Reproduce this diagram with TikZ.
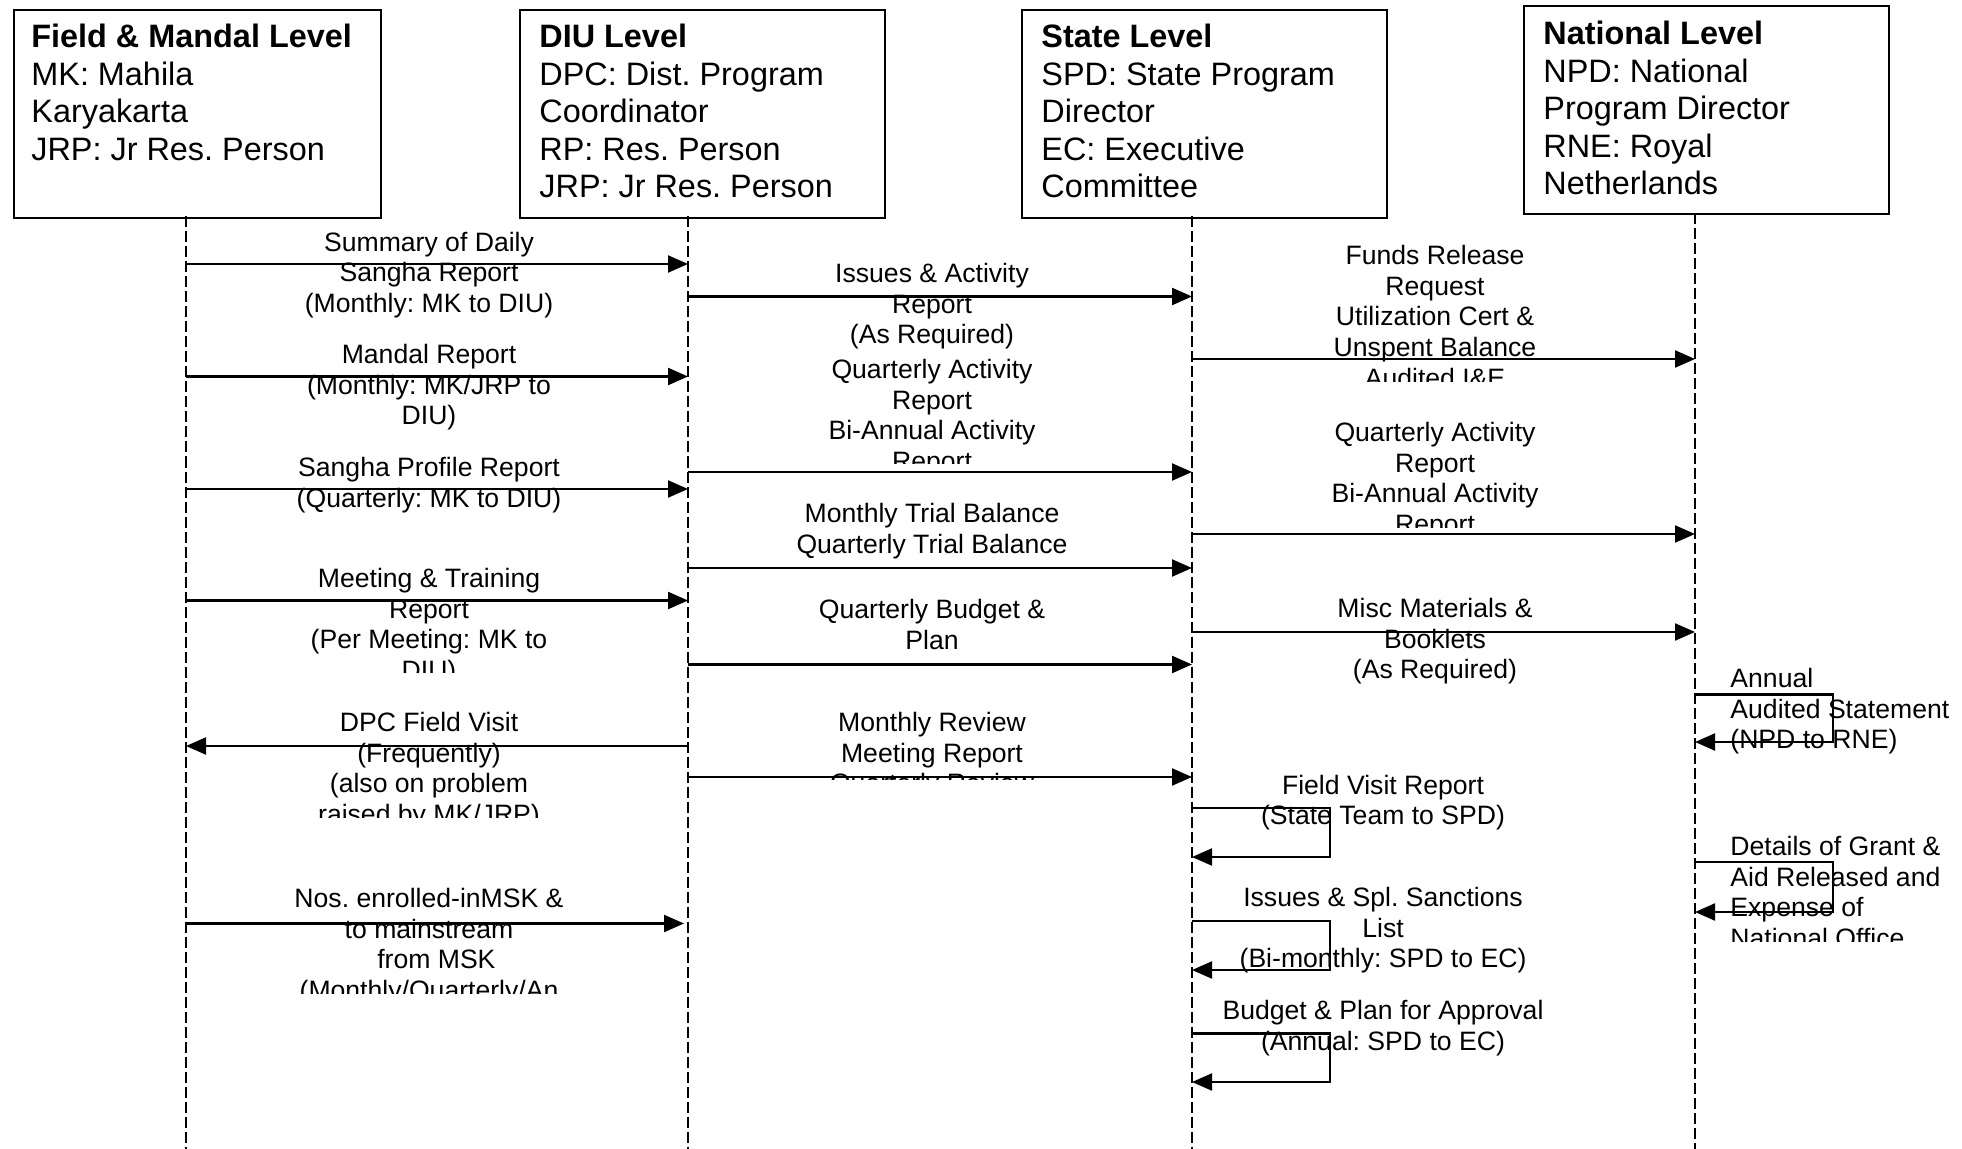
\documentclass[tikz,border=0pt]{standalone}
\usepackage{fontspec}
\setmainfont{Liberation Sans}
\usetikzlibrary{arrows.meta}
\frenchspacing
\begin{document}
\begin{tikzpicture}[x=0.5pt,y=-0.5pt,
  lvlbox/.style={draw, line width=1.2pt, inner sep=0pt, anchor=north west,
                 minimum width=182.5pt, minimum height=104pt},
  lvltext/.style={anchor=north west, inner sep=0pt, align=left,
                  font=\fontsize{16.2}{18.75}\selectfont},
  lifeline/.style={line width=0.7pt, dash pattern=on 5.5pt off 2pt},
  msg/.style={line width=1.1pt, -{Triangle[length=10pt,width=8.5pt]}},
  lbl/.style={anchor=north, inner sep=0pt, align=center,
              font=\fontsize{13.3}{15.3}\selectfont},
  lblL/.style={anchor=north west, inner sep=0pt, align=left,
               font=\fontsize{13.3}{15.3}\selectfont},
]
\useasboundingbox (0,0) rectangle (1962,1149);

% ---- level boxes ----
\node[lvlbox, minimum width=183.75pt] (field) at (12.5,9) {};
\node[lvltext] (fieldtxt) at (31,24)
  {\textbf{Field \& Mandal Level}\\MK: Mahila\\Karyakarta\\JRP: Jr Res. Person};
\node[lvlbox] (diu) at (519,9) {};
\node[lvltext] (diutxt) at (539,24)
  {\textbf{DIU Level}\\DPC: Dist. Program\\Coordinator\\RP: Res. Person\\JRP: Jr Res. Person};
\node[lvlbox] (state) at (1021,9) {};
\node[lvltext] (statetxt) at (1041,24)
  {\textbf{State Level}\\SPD: State Program\\Director\\EC: Executive\\Committee};
\node[lvlbox] (nat) at (1523,5) {};
\node[lvltext] (nattxt) at (1543,21)
  {\textbf{National Level}\\NPD: National\\Program Director\\RNE: Royal\\Netherlands};

% ---- lifelines ----
\coordinate (ll1) at (186,216.5);  \coordinate (lb1) at (186,1149);
\coordinate (ll2) at (688,216.5);  \coordinate (lb2) at (688,1149);
\coordinate (ll3) at (1192,216.5); \coordinate (lb3) at (1192,1149);
\coordinate (ll4) at (1695,213);   \coordinate (lb4) at (1695,1149);
\draw[lifeline] (ll1) -- (lb1);
\draw[lifeline] (ll2) -- (lb2);
\draw[lifeline] (ll3) -- (lb3);
\draw[lifeline] (ll4) -- (lb4);

% ---- field level <-> DIU ----
\draw[msg] (ll1 |- 0,264) -- (ll2 |- 0,264);
\node[lbl] (m1) at (429,231.5) {Summary of Daily\\Sangha Report\\(Monthly: MK to DIU)};
\draw[msg] (ll1 |- 0,376.5) -- (ll2 |- 0,376.5);
\node[lbl] (m2) at (429,344) {Mandal Report\\(Monthly: MK/JRP to\\DIU)};
\draw[msg] (ll1 |- 0,489) -- (ll2 |- 0,489);
\node[lbl] (m3) at (429,457) {Sangha Profile Report\\(Quarterly: MK to DIU)};
\draw[msg] (ll1 |- 0,600.5) -- (ll2 |- 0,600.5);
\begin{scope}
  \clip (180,560) rectangle (680,672);
  \node[lbl] (m4) at (429,568) {Meeting \& Training\\Report\\(Per Meeting: MK to\\DIU)};
\end{scope}
\draw[msg] (ll2 |- 0,746) -- (ll1 |- 0,746);
\begin{scope}
  \clip (180,700) rectangle (680,817);
  \node[lbl] (m5) at (429,712) {DPC Field Visit\\(Frequently)\\(also on problem\\raised by MK/JRP)};
\end{scope}
\draw[msg] (ll1 |- 0,923.5) -- (684,923.5);
\begin{scope}
  \clip (180,878) rectangle (680,993.5);
  \node[lbl] (m6) at (429,888) {Nos. enrolled-inMSK \&\\to mainstream\\\ \ from MSK\\(Monthly/Quarterly/An};
\end{scope}

% ---- DIU -> state ----
\draw[msg] (ll2 |- 0,296.5) -- (ll3 |- 0,296.5);
\node[lbl] (d1) at (932,263) {Issues \& Activity\\Report\\(As Required)};
\draw[msg] (ll2 |- 0,472) -- (ll3 |- 0,472);
\begin{scope}
  \clip (690,350) rectangle (1185,463);
  \node[lbl] (d2) at (932,359) {Quarterly Activity\\Report\\Bi-Annual Activity\\Report};
\end{scope}
\draw[msg] (ll2 |- 0,568) -- (ll3 |- 0,568);
\node[lbl] (d3) at (932,503) {Monthly Trial Balance\\Quarterly Trial Balance};
\draw[msg] (ll2 |- 0,664.5) -- (ll3 |- 0,664.5);
\node[lbl] (d4) at (932,599) {Quarterly Budget \&\\Plan};
\draw[msg] (ll2 |- 0,777) -- (ll3 |- 0,777);
\begin{scope}
  \clip (690,700) rectangle (1185,779.5);
  \node[lbl] (d5) at (932,712) {Monthly Review\\Meeting Report\\Quarterly Review};
\end{scope}

% ---- state -> national ----
\draw[msg] (ll3 |- 0,359) -- (ll4 |- 0,359);
\begin{scope}
  \clip (1195,235) rectangle (1690,381.6);
  \node[lbl] (s1) at (1435,245) {Funds Release\\Request\\Utilization Cert \&\\Unspent Balance\\Audited I\&E};
\end{scope}
\draw[msg] (ll3 |- 0,534) -- (ll4 |- 0,534);
\begin{scope}
  \clip (1195,410) rectangle (1690,527);
  \node[lbl] (s2) at (1435,422) {Quarterly Activity\\Report\\Bi-Annual Activity\\Report};
\end{scope}
\draw[msg] (ll3 |- 0,632) -- (ll4 |- 0,632);
\node[lbl] (s3) at (1435,598) {Misc Materials \&\\Booklets\\(As Required)};

% ---- state self messages ----
\draw[msg] (ll3 |- 0,808) -- (1330,808) -- (1330,857) -- (ll3 |- 0,857);
\node[lbl] (t1) at (1383,774.5) {Field Visit Report\\(State Team to SPD)};
\draw[msg] (ll3 |- 0,921) -- (1330,921) -- (1330,970) -- (ll3 |- 0,970);
\node[lbl] (t2) at (1383,887) {Issues \& Spl. Sanctions\\List\\(Bi-monthly: SPD to EC)};
\draw[msg] (ll3 |- 0,1033.5) -- (1330,1033.5) -- (1330,1082) -- (ll3 |- 0,1082);
\node[lbl] (t3) at (1383,1000) {Budget \& Plan for Approval\\(Annual: SPD to EC)};

% ---- national self messages ----
\draw[msg] (ll4 |- 0,694.5) -- (1833,694.5) -- (1833,742) -- (ll4 |- 0,742);
\node[lblL] (n1) at (1730,668) {Annual\\Audited Statement\\(NPD to RNE)};
\draw[msg] (ll4 |- 0,862) -- (1833,862) -- (1833,912) -- (ll4 |- 0,912);
\begin{scope}
  \clip (1720,826) rectangle (1962,941);
  \node[lblL] (n2) at (1730,836) {Details of Grant \&\\Aid Released and\\Expense of\\National Office};
\end{scope}
\end{tikzpicture}
\end{document}
